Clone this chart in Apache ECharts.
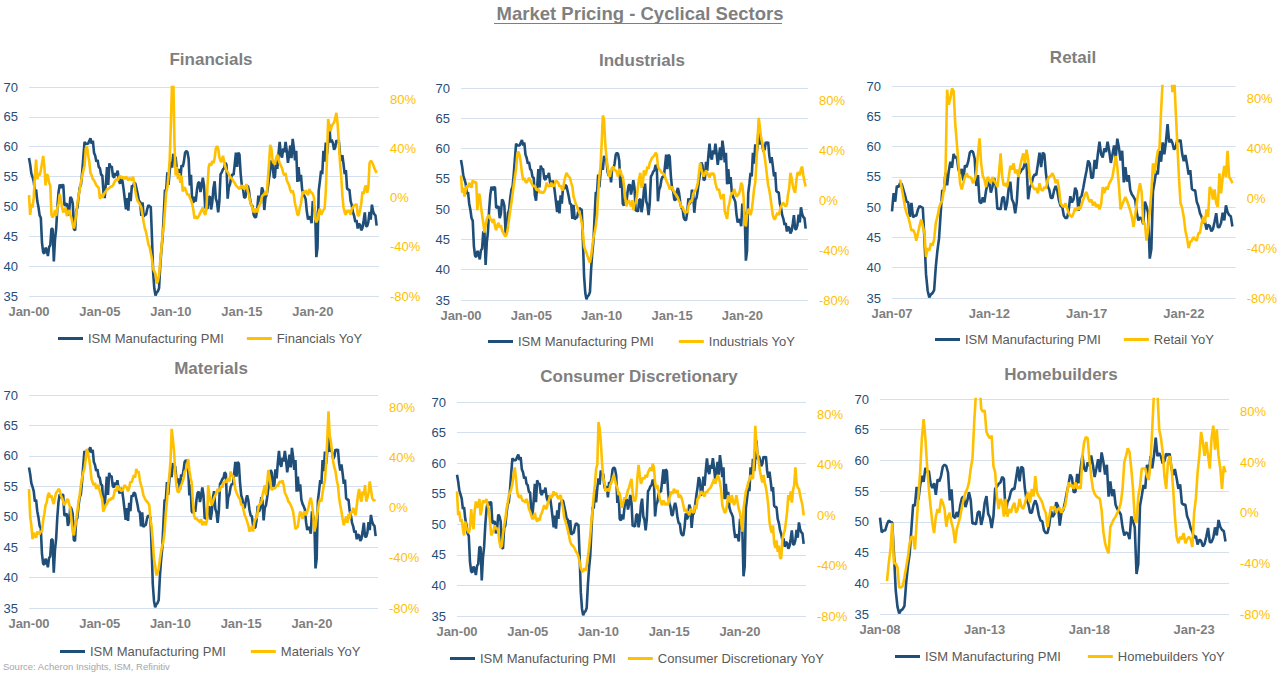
<!DOCTYPE html>
<html><head><meta charset="utf-8">
<script src="https://cdn.jsdelivr.net/npm/echarts@6/dist/echarts.min.js"></script>
<style>html,body{margin:0;padding:0;background:#fff}#c{width:1280px;height:674px}</style>
</head><body><div id="c"></div>
<script>
const MONTHS = ['Jan','Feb','Mar','Apr','May','Jun','Jul','Aug','Sep','Oct','Nov','Dec'];
const CHART_TITLE = 'Market Pricing - Cyclical Sectors';
const SOURCE_TEXT = 'Source: Acheron Insights, ISM, Refinitiv';
const ISM_NAME = 'ISM Manufacturing PMI';

// ISM Manufacturing PMI, monthly Jan-2000 .. Jul-2024
const ism = [
58.1,57.0,55.5,54.9,54.2,52.5,52.8,50.9,49.9,48.5,48.1,43.9,
42.3,42.1,43.1,42.7,41.7,43.2,43.5,46.3,46.2,40.8,44.5,46.3,
49.9,52.4,53.7,53.1,53.6,53.6,50.2,50.3,50.5,48.5,49.2,51.6,
51.3,50.5,46.2,46.0,49.4,49.8,51.8,53.2,53.7,55.8,58.4,60.8,
60.5,60.5,60.5,61.0,61.4,60.5,61.0,59.0,58.5,57.5,57.8,56.6,
56.4,55.3,55.2,52.3,51.4,53.8,56.6,53.6,57.2,56.6,56.7,55.1,
54.8,55.6,55.2,56.0,54.4,53.8,54.7,54.3,52.9,51.2,49.5,51.4,
49.3,52.3,50.9,53.5,53.3,54.0,53.8,52.9,52.0,50.9,50.8,48.4,
50.7,48.3,48.6,48.6,49.6,50.2,50.0,49.9,44.8,38.9,36.2,35.1,
35.6,35.8,36.3,40.1,42.8,44.8,48.9,52.8,52.6,55.7,53.6,55.9,
57.5,56.5,58.8,58.1,58.3,56.2,55.5,56.3,54.4,56.9,56.6,57.5,
59.0,59.3,59.1,58.0,53.5,55.3,50.9,50.6,51.6,50.8,52.7,53.9,
54.1,52.4,53.4,54.8,53.5,49.7,49.8,49.6,51.5,51.7,49.5,50.7,
53.1,54.2,51.3,50.7,49.0,50.9,55.4,55.7,56.2,56.4,57.3,57.0,
51.3,53.2,53.7,54.9,55.4,55.3,57.1,59.0,56.6,59.0,58.7,55.5,
53.5,52.9,51.5,51.5,52.8,53.5,52.7,51.1,50.2,50.1,48.6,48.2,
48.2,49.5,51.8,50.8,51.3,53.2,52.6,49.4,51.5,51.9,53.2,54.7,
56.0,57.7,57.2,54.8,54.9,57.8,56.3,58.8,60.8,58.7,58.2,59.7,
59.1,60.8,59.3,57.3,58.7,60.2,58.1,61.3,59.8,57.7,59.3,54.1,
56.6,54.2,55.3,52.8,52.1,51.7,51.2,49.1,47.8,48.3,48.1,47.2,
50.9,50.1,49.1,41.5,43.1,52.6,54.2,56.0,55.4,59.3,57.5,60.7,
58.7,60.8,63.7,60.7,61.2,60.6,59.5,59.9,61.1,60.8,61.1,58.8,
57.6,58.6,57.1,55.4,56.1,53.0,52.8,52.8,50.9,50.2,49.0,48.4,
47.4,47.7,46.3,47.1,46.9,46.0,46.4,47.6,49.0,46.7,46.7,47.4,
49.1,47.8,50.3,49.2,48.7,48.5,46.8
];

// Sector YoY (%), monthly Jan-2000 .. Jul-2024
const financialsYoY = [
2,-14,-5,-8,0,18,31,15,20,18,22,28,
34,25,10,19,18,12,10,-14,-16,-14,-10,-15,
-8,-5,3,-2,-8,-12,-10,-8,-15,-12,-10,-14,
-17,-22,-25,-20,-12,-4,2,7,13,18,22,26,
40,42,35,29,20,18,15,14,12,10,9,8,
-1,3,0,2,4,5,7,7,8,9,9,10,
12,14,15,14,16,18,16,16,17,15,17,16,
14,16,15,14,17,12,5,0,-3,-4,-6,-8,
-14,-20,-25,-28,-33,-38,-40,-45,-50,-58,-60,-62,
-70,-68,-63,-52,-41,-30,-23,-10,4,8,18,31,
60,95,100,45,18,25,15,20,12,18,5,8,
8,5,2,3,0,-2,-5,-10,-17,-15,-17,-16,
-14,-12,-10,-8,-12,-14,-10,10,25,28,26,30,
28,32,40,42,40,33,30,29,34,30,25,22,
21,19,17,16,15,13,12,10,9,8,7,9,
10,8,7,9,11,5,2,-3,-6,-8,-12,-10,
-9,-12,-8,-6,-4,1,2,3,5,2,15,28,
43,40,30,28,27,32,35,31,28,26,24,20,
18,20,14,12,10,6,4,6,2,-5,-9,-14,
-14,-8,-5,2,5,3,6,4,2,7,5,4,
3,0,-17,-20,-18,-12,-9,-14,-12,-10,-9,5,
31,64,58,54,58,60,61,65,69,60,45,29,
18,2,-8,-12,-14,-10,-12,-10,-14,-9,-8,-6,
-6,-5,-14,-15,-10,-5,5,3,8,10,4,8,
28,30,29,27,24,22,20
];
const industrialsYoY = [
20,6,10,3,8,12,10,14,12,10,16,14,
15,14,-8,5,4,-5,-12,-18,-26,-20,-15,-13,
-12,-15,-16,-18,-15,-21,-24,-20,-18,-22,-20,-24,
-26,-28,-29,-27,-22,-15,-8,-2,5,12,19,25,
37,39,36,30,22,16,18,15,14,16,18,16,
14,12,11,12,9,8,9,6,7,6,6,7,
9,14,12,11,12,14,12,11,13,16,15,14,
11,12,9,8,15,19,22,20,19,18,14,11,
3,0,-3,-5,-8,-10,-13,-18,-26,-37,-40,-42,
-45,-48,-50,-45,-37,-30,-26,-20,-13,5,19,27,
46,68,65,46,35,27,20,19,23,26,27,24,
24,22,19,25,24,20,19,12,3,-5,-2,0,
-2,-5,0,-8,-3,-2,3,11,18,22,10,12,
24,20,22,27,25,30,32,34,35,36,38,37,
27,25,24,22,22,21,19,16,14,12,9,10,
11,8,6,5,3,2,-1,-2,-6,-5,-8,-10,
-9,-10,-5,-2,0,-1,5,7,8,10,14,22,
30,25,22,19,21,24,22,20,18,22,20,22,
20,14,10,8,9,4,1,3,5,-9,-12,-15,
-6,-2,3,6,5,9,6,3,4,5,8,14,
12,3,-18,-21,-12,-7,-8,-12,-8,0,9,14,
30,50,66,58,50,46,40,35,28,20,12,8,
2,-5,-12,-15,-15,-12,-10,-12,-8,-5,-3,-2,
-4,-5,-3,5,10,22,18,12,8,6,15,22,
22,20,25,27,20,15,11
];
const materialsYoY = [
15,-7,-14,-25,-20,-22,-24,-19,-20,-21,-19,-19,
-10,-5,2,4,10,12,8,10,6,3,8,12,
13,15,14,10,8,5,2,4,6,7,3,0,
-9,-19,-22,-16,-10,-3,5,10,18,24,28,31,
38,47,44,39,32,23,20,18,20,15,17,18,
13,10,7,-3,-1,2,3,5,7,6,8,7,
10,15,13,18,14,16,13,14,15,18,17,16,
13,16,21,20,23,26,24,31,28,29,22,18,
15,10,8,6,5,4,2,-9,-15,-27,-41,-46,
-54,-52,-49,-41,-35,-30,-27,-19,-5,5,18,25,
37,63,55,45,29,18,13,12,15,18,20,23,
29,30,34,39,30,24,20,5,-6,-9,-8,-10,
-10,-12,-9,-14,-12,-11,-14,-10,18,10,5,2,
5,8,10,12,15,13,14,18,16,20,21,20,
23,22,21,29,25,26,22,15,12,10,8,7,
2,3,-2,-6,-8,-11,-14,-19,-17,-15,-19,-12,
-9,-8,-3,2,3,4,10,14,18,10,20,30,
25,18,14,16,15,16,18,17,20,21,20,22,
18,12,10,8,5,4,2,0,-3,-10,-17,-16,
-15,-8,-3,-5,-9,-4,-3,-6,-3,0,5,8,
3,-5,-19,-15,-8,-2,4,7,5,12,18,22,
35,55,77,58,53,45,37,32,29,22,18,8,
2,-3,-9,-14,-10,-7,-12,-5,-9,-3,-4,0,
-4,-6,2,10,15,8,5,13,10,18,5,8,
12,21,15,8,6,6,6
];
const consumerDiscYoY = [
19,0,3,-5,-3,-11,-16,-5,-10,-12,-14,-10,
5,-5,-11,4,11,6,8,13,0,5,12,10,
11,13,8,5,-5,-16,-14,-12,-8,-11,-10,-13,
-21,-26,-24,-15,-8,-3,5,10,16,18,21,25,
32,38,30,19,15,14,16,13,11,12,10,13,
10,5,3,0,-3,-2,2,-3,-5,-2,-4,0,
2,5,8,6,5,10,12,16,14,15,19,16,
18,15,13,15,16,10,5,-2,-5,-8,-12,-16,
-21,-23,-24,-25,-27,-29,-30,-33,-37,-42,-44,-45,
-42,-44,-40,-33,-26,-16,-5,5,16,25,37,40,
74,69,58,42,30,26,19,20,21,19,24,26,
29,32,28,24,22,16,18,11,6,10,14,13,
16,20,22,26,29,18,12,11,15,30,40,32,
25,28,30,29,32,30,34,36,38,35,41,38,
26,21,24,19,13,10,8,12,10,8,10,8,
13,16,19,17,21,19,18,20,14,16,15,12,
8,3,5,2,3,0,5,4,2,3,8,5,
13,14,16,19,18,16,15,19,18,20,21,22,
24,26,29,25,28,32,30,26,20,8,5,2,
3,8,16,13,10,16,12,8,11,16,10,5,
2,-5,-13,5,12,19,22,26,28,32,30,29,
45,71,55,48,42,35,30,26,32,26,22,16,
8,-5,-11,-14,-8,-22,-26,-20,-29,-24,-34,-34,
-19,-15,-12,-5,3,16,12,19,10,20,24,38,
26,22,21,16,12,8,0
];
// Retail YoY (%), monthly Jan-2007 .. Jul-2024
const retailYoY = [
null,null,null,null,null,15,8,1,-7,-12,-15,-20,
-26,-25,-28,-34,-28,-22,-17,-22,-28,-47,-40,-42,
-36,-38,-33,-20,-15,-8,-4,-2,7,20,87,75,
80,88,86,60,44,28,12,7,12,17,20,17,
17,16,12,15,20,35,48,28,18,15,9,17,
15,12,17,14,12,9,20,36,17,10,12,9,
17,26,23,28,20,23,17,25,31,36,28,39,
31,17,12,9,7,8,4,12,7,6,9,8,
15,17,18,20,17,12,15,8,-4,-6,-7,-4,
-8,-12,-14,-15,-12,-8,-10,-7,-9,-5,-1,3,
5,0,-3,-1,-6,-3,-7,-5,-9,-5,9,4,
9,7,12,14,17,25,34,25,10,-9,-5,-2,
1,-2,-6,-10,-15,-23,-14,-4,5,12,5,-20,
-20,-34,-25,-10,5,28,20,30,38,40,70,95,
120,140,150,130,110,85,100,71,44,17,-4,-8,
-15,-26,-32,-40,-35,-34,-31,-33,-34,-28,-28,-20,
-15,-20,-9,-15,9,7,-1,7,-4,-7,20,4,
17,26,17,38,17,15,12
];
// Homebuilders YoY (%), monthly Jan-2008 .. Jul-2024
const homebuildersYoY = [
null,null,null,null,-54,-40,-29,-8,-40,-40,-43,-59,
-59,-58,-51,-43,-35,-24,-19,-19,-29,-8,13,32,
59,74,59,37,19,5,-8,-16,-3,3,0,11,
8,3,-11,-3,0,-8,-13,-24,-13,-8,-3,5,
11,16,19,24,35,43,72,95,110,105,82,80,
81,64,61,59,61,37,32,13,3,11,8,-3,
11,-3,3,0,5,8,0,3,11,5,3,7,
13,16,8,19,13,29,16,13,11,8,3,0,
-11,-3,5,3,5,0,3,4,0,3,5,13,
24,21,22,19,24,19,21,19,45,56,60,59,
42,29,19,15,13,12,11,2,-15,-24,-29,-32,
-11,-8,-5,-3,0,3,8,19,40,45,51,48,
35,19,-5,-8,13,21,35,35,35,29,26,40,
66,95,105,95,66,59,48,29,19,40,45,37,
19,-3,-19,-24,-19,-21,-16,-24,-21,-19,-21,-27,
0,11,32,45,64,56,45,56,45,35,59,69,
50,66,45,35,19,37,32
];

// axis settings
const LEFT_MIN = 35, LEFT_MAX = 70, LEFT_STEP = 5;
const RIGHT_MIN = -80, RIGHT_MAX = 90, RIGHT_STEP = 40;
const AXIS_END_YEAR = 2024, AXIS_END_MONTH = 8; // axis runs to Sep-2024

function monthCats(y0) {
  const out = [];
  for (let y = y0; y <= AXIS_END_YEAR; y++) {
    for (let m = 0; m < 12; m++) {
      if (y === AXIS_END_YEAR && m > AXIS_END_MONTH) break;
      out.push(MONTHS[m] + '-' + String(y % 100).padStart(2, '0'));
    }
  }
  return out;
}

const panels = [
  {name:'Financials', yoyName:'Financials YoY', startYear:2000, yoy:financialsYoY,
   grid:{left:29, top:87, width:350, height:209}, tx:211, ty:51, lg:{left:58, top:332, gap:23}},
  {name:'Industrials', yoyName:'Industrials YoY', startYear:2000, yoy:industrialsYoY,
   grid:{left:461, top:88, width:347, height:212}, tx:642, ty:52, lg:{left:488, top:335, gap:25}},
  {name:'Retail', yoyName:'Retail YoY', startYear:2007, yoy:retailYoY,
   grid:{left:892, top:86, width:347, height:212}, tx:1073, ty:49, lg:{left:935, top:333, gap:23}},
  {name:'Materials', yoyName:'Materials YoY', startYear:2000, yoy:materialsYoY,
   grid:{left:29, top:395, width:349, height:213}, tx:211, ty:360, lg:{left:60, top:645, gap:25}},
  {name:'Consumer Discretionary', yoyName:'Consumer Discretionary YoY', startYear:2000, yoy:consumerDiscYoY,
   grid:{left:457, top:402, width:349, height:214}, tx:639, ty:368, lg:{left:450, top:652, gap:12}},
  {name:'Homebuilders', yoyName:'Homebuilders YoY', startYear:2008, yoy:homebuildersYoY,
   grid:{left:880, top:399, width:349, height:215}, tx:1061, ty:366, lg:{left:895, top:650, gap:27}}
];

const FONT = '"Liberation Sans", Arial, sans-serif';
const NAVY = '#1F4E79', GOLD = '#FFC000', GRAY = '#7F7F7F';

const option = {
  backgroundColor: '#ffffff',
  animation: false,
  textStyle: {fontFamily: FONT},
  title: [], grid: [], xAxis: [], yAxis: [], series: [], legend: [],
  graphic: [
    {type:'text', left:'center', top:4, style:{text:CHART_TITLE, fontFamily:FONT, fontSize:18.5, fontWeight:'bold', fill:GRAY}},
    {type:'line', shape:{x1:494, y1:23.5, x2:782, y2:23.5}, style:{stroke:GRAY, lineWidth:1}},
    {type:'text', left:3, top:661, style:{text:SOURCE_TEXT, fontFamily:FONT, fontSize:9.5, fill:'#A6A6A6'}}
  ]
};

panels.forEach((p, i) => {
  const cats = monthCats(p.startYear);
  const offset = (p.startYear - 2000) * 12;
  option.title.push({text:p.name, left:p.tx, top:p.ty, textAlign:'center', padding:0,
    textStyle:{fontFamily:FONT, fontSize:17, fontWeight:'bold', color:GRAY}});
  option.grid.push(Object.assign({containLabel:false}, p.grid));
  option.xAxis.push({type:'category', gridIndex:i, data:cats, boundaryGap:false,
    axisLine:{show:false}, axisTick:{show:false}, splitLine:{show:false},
    axisLabel:{interval:59, color:GRAY, fontWeight:'bold', fontSize:13, margin:9, fontFamily:FONT}});
  option.yAxis.push({type:'value', gridIndex:i, position:'left', min:LEFT_MIN, max:LEFT_MAX, interval:LEFT_STEP,
    axisLine:{show:false}, axisTick:{show:false},
    axisLabel:{color:NAVY, fontSize:13, margin:11, fontFamily:FONT},
    splitLine:{lineStyle:{color:'#D5E0EF', width:1}}});
  option.yAxis.push({type:'value', gridIndex:i, position:'right', min:RIGHT_MIN, max:RIGHT_MAX, interval:RIGHT_STEP,
    axisLine:{show:false}, axisTick:{show:false}, splitLine:{show:false},
    axisLabel:{color:GOLD, fontSize:13, margin:11, fontFamily:FONT, formatter:'{value}%', showMaxLabel:false}});
  option.series.push({type:'line', name:ISM_NAME, xAxisIndex:i, yAxisIndex:2*i,
    data:ism.slice(offset), symbol:'none', showSymbol:false, clip:true,
    lineStyle:{color:NAVY, width:2.6}, itemStyle:{color:NAVY}});
  option.series.push({type:'line', name:p.yoyName, xAxisIndex:i, yAxisIndex:2*i+1,
    data:p.yoy, symbol:'none', showSymbol:false, clip:true, connectNulls:false,
    lineStyle:{color:GOLD, width:2.6}, itemStyle:{color:GOLD}});
  option.legend.push({data:[ISM_NAME, p.yoyName], left:p.lg.left, top:p.lg.top, padding:0, icon:'rect',
    itemWidth:25, itemHeight:3, itemGap:p.lg.gap, selectedMode:false,
    textStyle:{fontFamily:FONT, fontSize:13, color:'#595959'}});
});

const chart = echarts.init(document.getElementById('c'), null, {renderer:'svg'});
chart.setOption(option);
</script></body></html>
